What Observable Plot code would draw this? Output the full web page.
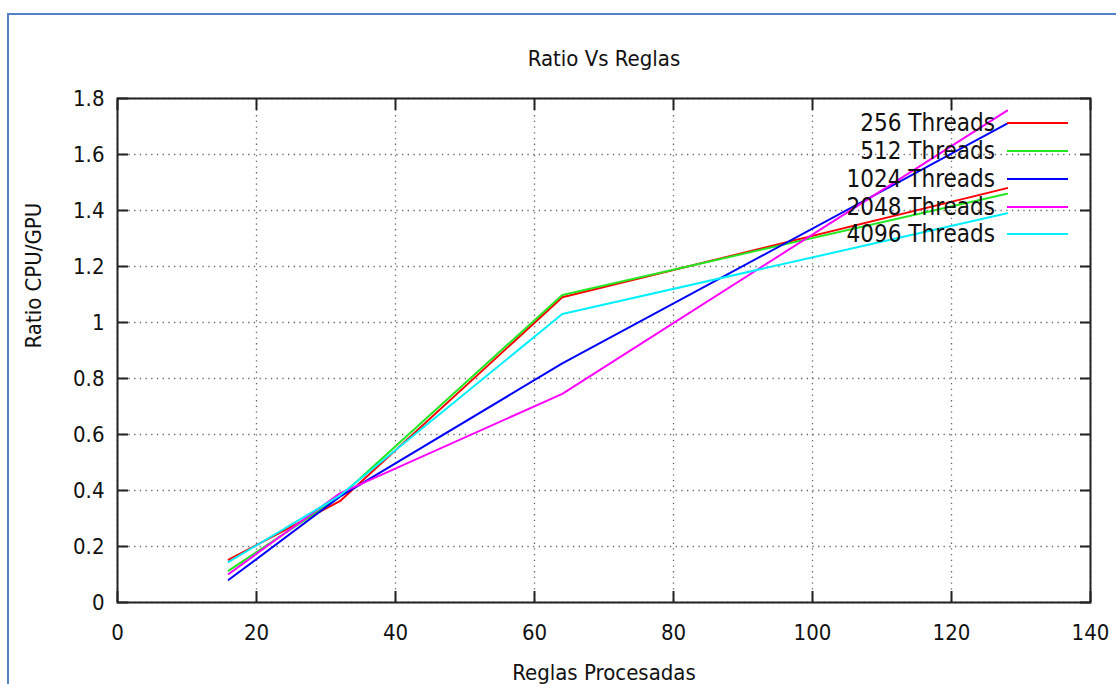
<!DOCTYPE html>
<html>
<head>
<meta charset="utf-8">
<script src="https://cdn.jsdelivr.net/npm/d3@7"></script>
<script src="https://cdn.jsdelivr.net/npm/@observablehq/plot@0.6"></script>
<style>
  html, body { margin: 0; padding: 0; background: #fff; }
  #wrap { position: relative; width: 1116px; height: 684px; overflow: hidden; background: #fff;
          font-family: "DejaVu Sans Condensed", "DejaVu Sans", sans-serif; font-stretch: condensed; }
  #border { position: absolute; left: 7px; top: 13px; width: 1200px; height: 800px;
            border-top: 2px solid #5283c4; border-left: 2px solid #5283c4; }
  #chart { position: absolute; left: 0; top: 0; }
  #legend { position: absolute; left: 700px; top: 109.5px; width: 368px; }
  .row { display: flex; align-items: center; justify-content: flex-end; height: 27.75px; font-size: 24px; color: #111; }
  .row span { white-space: nowrap; }
  .sw { width: 61px; height: 2px; margin-left: 12px; }
</style>
</head>
<body>
<div id="wrap">
  <div id="border"></div>
  <div id="chart"></div>
  <div id="legend"></div>
</div>
<script>
const xs = [16, 32, 64, 128];
const seriesNames = ["256 Threads", "512 Threads", "1024 Threads", "2048 Threads", "4096 Threads"];
const seriesColors = ["#ff0000", "#22e822", "#0000ff", "#ff00ff", "#00f0ff"];
const t256 = [0.153, 0.362, 1.090, 1.480];
const t512 = [0.114, 0.378, 1.098, 1.460];
const t1024 = [0.081, 0.378, 0.854, 1.710];
const t2048 = [0.102, 0.390, 0.745, 1.757];
const t4096 = [0.145, 0.382, 1.030, 1.390];
const xTicks = [0, 20, 40, 60, 80, 100, 120, 140];
const yTicks = [0, 0.2, 0.4, 0.6, 0.8, 1, 1.2, 1.4, 1.6, 1.8];
const yTickLabels = ["0", "0.2", "0.4", "0.6", "0.8", "1", "1.2", "1.4", "1.6", "1.8"];
const chartTitle = "Ratio Vs Reglas";
const xLabel = "Reglas Procesadas";
const yLabel = "Ratio CPU/GPU";

const allSeries = [t256, t512, t1024, t2048, t4096];
const rows = [];
allSeries.forEach((vals, si) => {
  vals.forEach((v, i) => rows.push({series: seriesNames[si], x: xs[i], y: v}));
});

const font = "'DejaVu Sans Condensed', 'DejaVu Sans', sans-serif";
const blank = () => "";

const chart = Plot.plot({
  width: 1116,
  height: 684,
  marginLeft: 117,
  marginRight: 26,
  marginTop: 98,
  marginBottom: 82,
  x: {domain: [0, 140]},
  y: {domain: [0, 1.8]},
  color: {domain: seriesNames, range: seriesColors},
  style: {fontFamily: font, fontSize: "22px", background: "transparent", color: "#111", fontStretch: "condensed"},
  marks: [
    Plot.gridX(xTicks, {stroke: "#666", strokeOpacity: 1, strokeDasharray: "1.3,4.4", strokeWidth: 1.3}),
    Plot.gridY(yTicks, {stroke: "#666", strokeOpacity: 1, strokeDasharray: "1.3,4.4", strokeWidth: 1.3}),
    Plot.axisX(xTicks, {anchor: "bottom", tickSize: 0, tickPadding: 22, label: null}),
    Plot.axisY(yTicks, {anchor: "left", tickSize: 0, tickPadding: 13, label: null,
      tickFormat: d => yTickLabels[yTicks.indexOf(d)]}),
    Plot.axisX(xTicks, {anchor: "bottom", tickSize: -11, tickFormat: blank, label: null, strokeWidth: 2, stroke: "#222"}),
    Plot.axisX(xTicks, {anchor: "top", tickSize: -11, tickFormat: blank, label: null, strokeWidth: 2, stroke: "#222"}),
    Plot.axisY(yTicks, {anchor: "left", tickSize: -11, tickFormat: blank, label: null, strokeWidth: 2, stroke: "#222"}),
    Plot.axisY(yTicks, {anchor: "right", tickSize: -11, tickFormat: blank, label: null, strokeWidth: 2, stroke: "#222"}),
    Plot.line(rows, {x: "x", y: "y", z: "series", stroke: "series", strokeWidth: 2}),
    Plot.frame({stroke: "#222", strokeWidth: 2}),
    Plot.text([chartTitle], {frameAnchor: "top", lineAnchor: "middle", dy: -40, fontSize: 22, fill: "#111"}),
    Plot.text([xLabel], {frameAnchor: "bottom", lineAnchor: "middle", dy: 70, fontSize: 22, fill: "#111"}),
    Plot.text([yLabel], {frameAnchor: "left", lineAnchor: "middle", dx: -84, dy: -2, rotate: -90, fontSize: 22, fill: "#111"})
  ]
});
document.getElementById("chart").appendChild(chart);

const legend = document.getElementById("legend");
seriesNames.forEach((name, i) => {
  const row = document.createElement("div");
  row.className = "row";
  const s = document.createElement("span");
  s.textContent = name;
  const sw = document.createElement("div");
  sw.className = "sw";
  sw.style.background = seriesColors[i];
  row.appendChild(s);
  row.appendChild(sw);
  legend.appendChild(row);
});
</script>
</body>
</html>
